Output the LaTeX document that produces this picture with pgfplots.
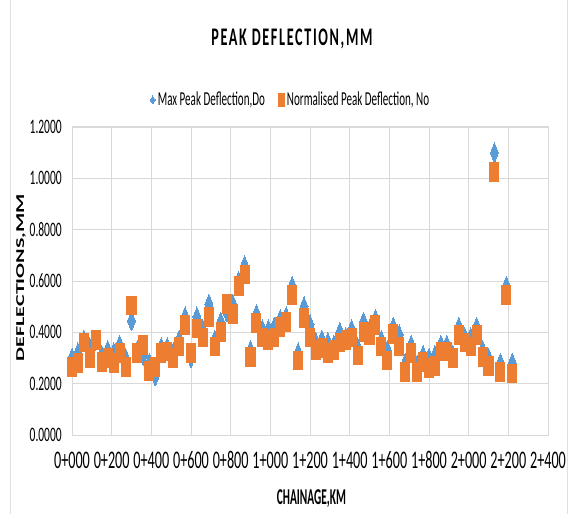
\documentclass[border=0pt]{standalone}
\usepackage{fontspec}
\usepackage{pgfplots}
\usepackage{pgfplotstable}
\pgfplotsset{compat=1.18}
\setmainfont{Carlito}
\newfontfamily\narrowfont[FakeStretch=0.56]{Carlito}
\newfontfamily\titlefont[FakeStretch=0.56,LetterSpace=6.5]{Carlito}
\newfontfamily\xlabfont[FakeStretch=0.5]{Carlito}
\newfontfamily\ylabfont[FakeStretch=1.84]{Carlito}
\definecolor{doblue}{RGB}{91,155,213}
\definecolor{noorange}{RGB}{237,125,49}
\definecolor{gridgray}{RGB}{217,217,217}

% chainage (m), max peak deflection Do, normalised peak deflection No
\pgfplotstableread{
ch   Do    No
0    0.30  0.266
30   0.32  0.28
60   0.37  0.36
90   0.34  0.30
120  0.37  0.37
150  0.31  0.285
180  0.33  0.30
210  0.32  0.28
240  0.35  0.32
270  0.30  0.265
300  0.445 0.505
330  0.33  0.32
360  0.31  0.35
390  0.28  0.25
420  0.23  0.265
450  0.34  0.32
480  0.34  0.325
510  0.32  0.30
540  0.37  0.345
570  0.46  0.43
600  0.30  0.32
630  0.46  0.415
660  0.41  0.38
690  0.51  0.46
720  0.37  0.345
750  0.44  0.40
780  0.48  0.51
810  0.51  0.47
840  0.60  0.58
870  0.66  0.625
900  0.33  0.305
930  0.47  0.435
960  0.41  0.38
990  0.41  0.37
1020 0.42  0.38
1050 0.45  0.42
1080 0.46  0.44
1110 0.58  0.545
1140 0.32  0.29
1170 0.50  0.455
1200 0.43  0.38
1230 0.36  0.33
1260 0.37  0.34
1290 0.36  0.32
1320 0.35  0.33
1350 0.40  0.36
1380 0.38  0.37
1410 0.41  0.38
1440 0.34  0.31
1470 0.44  0.40
1500 0.41  0.39
1530 0.45  0.43
1560 0.37  0.345
1590 0.33  0.29
1620 0.42  0.395
1650 0.39  0.345
1680 0.28  0.245
1710 0.35  0.32
1740 0.27  0.245
1770 0.31  0.285
1800 0.30  0.26
1830 0.31  0.27
1860 0.35  0.325
1890 0.35  0.325
1920 0.31  0.30
1950 0.42  0.39
1980 0.38  0.36
2010 0.38  0.345
2040 0.42  0.39
2070 0.33  0.305
2100 0.30  0.27
2130 1.10  1.025
2160 0.28  0.245
2190 0.58  0.545
2220 0.28  0.24
}\deflection

\begin{document}
\begin{tikzpicture}
\useasboundingbox (-54pt,-59.25pt) rectangle (373.5pt,326.25pt);
\begin{axis}[
    scale only axis,
    width=357pt,
    height=231pt,
    clip=false,
    xmin=0, xmax=2400,
    ymin=0, ymax=1.2,
    xtick={0,200,...,2400},
    xticklabels={0+000,0+200,0+400,0+600,0+800,1+000,1+200,1+400,1+600,1+800,2+000,2+200,2+400},
    ytick={0,0.2,0.4,0.6,0.8,1.0,1.2},
    yticklabel style={font=\narrowfont\fontsize{15.4}{16}\selectfont, anchor=east, inner sep=0pt, xshift=-7.5pt,
        /pgf/number format/fixed, /pgf/number format/fixed zerofill,
        /pgf/number format/precision=4, /pgf/number format/assume math mode=true},
    xticklabel style={font=\narrowfont\fontsize{19}{19}\selectfont, anchor=center, inner sep=0pt, yshift=-18.75pt},
    major tick length=0pt,
    grid=major,
    major grid style={gridgray, line width=0.75pt},
    axis line style={gridgray, line width=0.75pt},
    title={PEAK DEFLECTION,MM},
    title style={at={(axis description cs:0.462,1.2597)}, anchor=center, font=\titlefont\bfseries\fontsize{19}{20}\selectfont},
    xlabel={CHAINAGE,KM},
    xlabel style={at={(axis description cs:0.503,-0.208)}, anchor=center, font=\xlabfont\bfseries\fontsize{17}{18}\selectfont},
    ylabel={DEFLECTIONS,MM},
    ylabel style={at={(axis description cs:-0.107,0.511)}, anchor=center, font=\ylabfont\bfseries\fontsize{9}{10}\selectfont},
    legend columns=2,
    legend cell align=left,
    legend style={at={(axis description cs:0.46,1.0877)}, anchor=center, draw=none, fill=none,
        font=\narrowfont\fontsize{14.8}{15}\selectfont,
        /tikz/every even column/.append style={column sep=8pt}},
]
\addplot[color=doblue, only marks, mark=diamond*, mark size=4pt,
    mark options={yscale=1.87, fill=doblue, draw=doblue, line width=0pt},
    legend image code/.code={\path[mark=diamond*, mark size=2.5pt, mark options={yscale=1.2, fill=doblue, draw=doblue, line width=0pt}] plot coordinates {(0.1cm,0cm)};}]
    table[x=ch, y=Do] {\deflection};
\addlegendentry{Max Peak Deflection,Do}
\addplot[color=noorange, only marks, mark=square*, mark size=3.4pt,
    mark options={yscale=2.07, fill=noorange, draw=noorange, line width=0pt},
    legend image code/.code={\path[mark=square*, mark size=2.25pt, mark options={yscale=2.17, fill=noorange, draw=noorange, line width=0pt}] plot coordinates {(0.1cm,0cm)};}]
    table[x=ch, y=No] {\deflection};
\addlegendentry{Normalised Peak Deflection, No}
\end{axis}
\draw[black!12, line width=0.75pt] (-45.75pt,-59.25pt) -- (-45.75pt,326.25pt);
\draw[black!12, line width=0.75pt] (371.25pt,-59.25pt) -- (371.25pt,326.25pt);
\end{tikzpicture}
\end{document}
